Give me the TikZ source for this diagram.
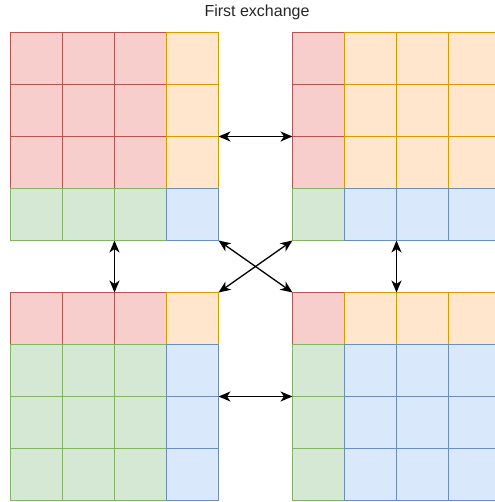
\documentclass[tikz,border=0pt]{standalone}
\usepackage{fontspec}
\setmainfont{Liberation Sans}
\usetikzlibrary{arrows.meta}
\definecolor{redF}{HTML}{F8CECC}\definecolor{redD}{HTML}{B85450}
\definecolor{oraF}{HTML}{FFE6CC}\definecolor{oraD}{HTML}{D79B00}
\definecolor{grnF}{HTML}{D5E8D4}\definecolor{grnD}{HTML}{82B366}
\definecolor{bluF}{HTML}{DAE8FC}\definecolor{bluD}{HTML}{6C8EBF}
\tikzset{
  cell/.style={draw, minimum size=52pt, inner sep=0pt, outer sep=0pt, line width=1.3pt, anchor=north west},
  link/.style={{Stealth[length=12pt,width=10pt,inset=3.5pt]}-{Stealth[length=12pt,width=10pt,inset=3.5pt]}, line width=1.3pt, black},
  title/.style={font=\fontsize{16}{19}\selectfont, text=black!85}
}
\begin{document}
\begin{tikzpicture}[x=1pt,y=-1pt]
\useasboundingbox (0,0) rectangle (494,502);
\node[title] (ttl) at (257,12) {First exchange};
\foreach \g/\ox/\oy/\rs/\cs in {tl/10.5/32.5/3/3, tr/292.5/32.5/3/1, bl/10.5/292.5/1/3, br/292.5/292.5/1/1} {
  \foreach \r in {0,...,3} {
    \foreach \c in {0,...,3} {
      \ifnum\r<\rs
        \ifnum\c<\cs \def\fc{redF}\def\dc{redD}\else\def\fc{oraF}\def\dc{oraD}\fi
      \else
        \ifnum\c<\cs \def\fc{grnF}\def\dc{grnD}\else\def\fc{bluF}\def\dc{bluD}\fi
      \fi
      \node[cell, fill=\fc, draw=\dc] (\g-\r-\c) at (\ox+52*\c, \oy+52*\r) {};
    }
  }
}
\draw[link] (tl-1-3.south east) -- (tr-1-0.south west);
\draw[link] (bl-1-3.south east) -- (br-1-0.south west);
\draw[link] (tl-3-1.south east) -- (bl-0-1.north east);
\draw[link] (tr-3-1.south east) -- (br-0-1.north east);
\draw[link] (tl-3-3.south east) -- (br-0-0.north west);
\draw[link] (tr-3-0.south west) -- (bl-0-3.north east);
\end{tikzpicture}
\end{document}
